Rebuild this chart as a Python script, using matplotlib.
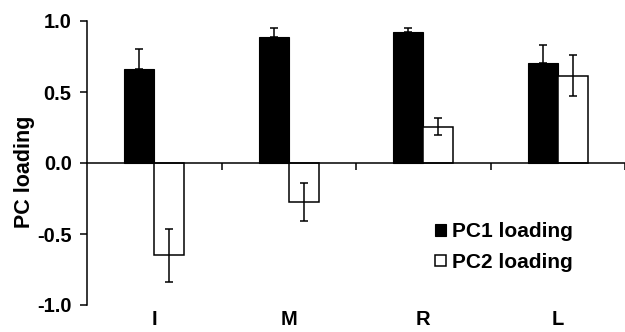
import matplotlib.pyplot as plt
import numpy as np

plt.rcParams['font.family'] = ['Liberation Sans', 'DejaVu Sans']
plt.rcParams['font.weight'] = 'bold'

cats = ['I', 'M', 'R', 'L']
pc1 = [0.66, 0.89, 0.92, 0.705]
pc1_err = [0.14, 0.06, 0.03, 0.125]
pc2 = [-0.65, -0.275, 0.255, 0.615]
pc2_err = [0.185, 0.135, 0.06, 0.145]

fig = plt.figure(figsize=(6.25, 3.32), dpi=100)
ax = fig.add_axes([87/625, 27/332, 1 - 87/625, 284/332])

x = np.arange(len(cats))
w = 0.222
ax.bar(x - w/2, pc1, w, color='black', edgecolor='black', linewidth=0.8, label='PC1 loading', zorder=2)
ax.bar(x + w/2, pc2, w, color='white', edgecolor='black', linewidth=1.1, label='PC2 loading', zorder=2)
ax.errorbar(x - w/2, pc1, yerr=[np.zeros(4), pc1_err], fmt='none', ecolor='black',
            elinewidth=1.1, capsize=3, capthick=1.1, zorder=3)
ax.errorbar(x + w/2, pc2, yerr=pc2_err, fmt='none', ecolor='black',
            elinewidth=1.1, capsize=3, capthick=1.1, zorder=3)

ax.set_ylim(-1, 1)
ax.set_xlim(-0.5, 3.49)
ax.set_yticks([-1.0, -0.5, 0.0, 0.5, 1.0])
ax.set_yticklabels(['-1.0', '-0.5', '0.0', '0.5', '1.0'], fontsize=14.5, fontweight='bold')
ax.set_xticks([0.5, 1.5, 2.5, 3.5])
ax.set_xticklabels([])
ax.spines['bottom'].set_position(('data', 0))
ax.spines['top'].set_visible(False)
ax.spines['right'].set_visible(False)
ax.spines['left'].set_linewidth(1.1)
ax.spines['bottom'].set_linewidth(1.1)
ax.tick_params(axis='y', direction='out', length=5, width=1.1, pad=6)
ax.tick_params(axis='x', direction='out', length=5, width=1.1)

for i, c in enumerate(cats):
    ax.text(i, -1.1, c, ha='center', va='center', fontsize=14.5, fontweight='bold', clip_on=False)

ax.set_ylabel('PC loading', fontsize=15.5, fontweight='bold')
ax.yaxis.set_label_coords(-0.097, 0.47)

ax.legend(loc='upper left', bbox_to_anchor=(425/625, 1 - 212/332), bbox_transform=fig.transFigure,
          frameon=False, fontsize=15, handlelength=0.5, handleheight=0.5, handletextpad=0.3,
          labelspacing=0.55, borderpad=0)

fig.savefig('out.png', dpi=100)
